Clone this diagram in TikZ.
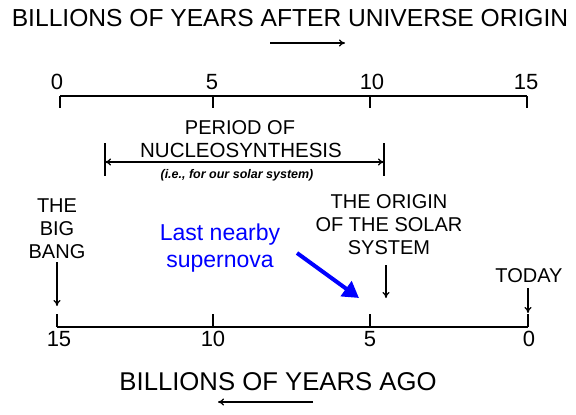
\documentclass[tikz,border=0pt]{standalone}
\usepackage{fontspec}
\setmainfont{Liberation Sans}
\usetikzlibrary{arrows.meta}
\begin{document}
\begin{tikzpicture}[x=1pt,y=-1pt,
  axis/.style={line width=1.6pt},
  tick/.style={line width=1.4pt},
  lbl/.style={inner sep=0pt,font=\fontsize{20}{23}\selectfont,align=center},
  big/.style={inner sep=0pt,font=\fontsize{24.6}{28}\selectfont},
  num/.style={inner sep=0pt,font=\fontsize{22}{26}\selectfont},
  dn/.style={line width=1.2pt,-{To[length=6pt,width=7pt]}},
  bl/.style={inner sep=0pt,text=blue,font=\fontsize{23}{27}\selectfont,align=center}]
\useasboundingbox (0,0) rectangle (576,415);
% top title
\node[big] (ttitle) at (290,18) {BILLIONS OF YEARS AFTER UNIVERSE ORIGIN};
\coordinate (ta1) at (270,43); \coordinate (ta2) at (345,43);
\draw[line width=1.2pt,-{To[length=6pt,width=7pt]}] (ta1) -- (ta2);
% top axis
\coordinate (t0) at (60,96); \coordinate (t5) at (213,96);
\coordinate (t10) at (370,96); \coordinate (t15) at (527,96);
\draw[axis] (t0) -- (t15);
\foreach \p in {t0,t5,t10,t15} \draw[tick] (\p) -- ++(0,12);
\node[num] (n0) at (57,82) {0};
\node[num] (n5) at (212,82) {5};
\node[num] (n10) at (372,82) {10};
\node[num] (n15) at (526,82) {15};
% nucleosynthesis
\node[lbl] (per) at (240,128) {PERIOD OF};
\node[lbl,font=\fontsize{20.5}{23}\selectfont] (nuc) at (241,150) {NUCLEOSYNTHESIS};
\node[inner sep=0pt,font=\fontsize{12.5}{15}\selectfont\bfseries\itshape] (ie) at (237,175) {(i.e., for our solar system)};
\coordinate (pl) at (105,162); \coordinate (pr) at (384,162);
\draw[line width=1.4pt] (105,143) -- (105,176);
\draw[line width=1.4pt] (384,143) -- (384,176);
\draw[line width=1.2pt,{To[length=6pt,width=7pt]}-{To[length=6pt,width=7pt]}] (pl) -- (pr);
% labels
\node[lbl] (bb) at (57,229) {THE\\BIG\\BANG};
\coordinate (bb1) at (57,262); \coordinate (bb2) at (57,306);
\draw[dn] (bb1) -- (bb2);
\node[lbl] (os) at (389,225) {THE ORIGIN\\OF THE SOLAR\\SYSTEM};
\coordinate (os1) at (386,265); \coordinate (os2) at (386,298);
\draw[dn] (os1) -- (os2);
\node[lbl] (td) at (529,276) {TODAY};
\coordinate (td1) at (528,288); \coordinate (td2) at (528,313);
\draw[dn] (td1) -- (td2);
\node[bl] (sn) at (220,248) {Last nearby\\supernova};
\coordinate (sn1) at (297,253); \coordinate (sn2) at (359,298);
\draw[blue,line width=4pt,-{Triangle[length=16pt,width=18pt]}] (sn1) -- (sn2);
% bottom axis
\coordinate (b15) at (57,327); \coordinate (b10) at (213,327);
\coordinate (b5) at (370,327); \coordinate (b0) at (528,327);
\draw[axis] (b15) -- (b0);
\foreach \p in {b15,b10,b5,b0} \draw[tick] (\p) -- ++(0,-13);
\node[num] (m15) at (59,339) {15};
\node[num] (m10) at (213,339) {10};
\node[num] (m5) at (370,339) {5};
\node[num] (m0) at (529,339) {0};
\node[big,font=\fontsize{25.7}{29}\selectfont] (btitle) at (278,382) {BILLIONS OF YEARS AGO};
\coordinate (ba1) at (313,402); \coordinate (ba2) at (218,402);
\draw[line width=1.2pt,-{To[length=6pt,width=7pt]}] (ba1) -- (ba2);
\end{tikzpicture}
\end{document}
